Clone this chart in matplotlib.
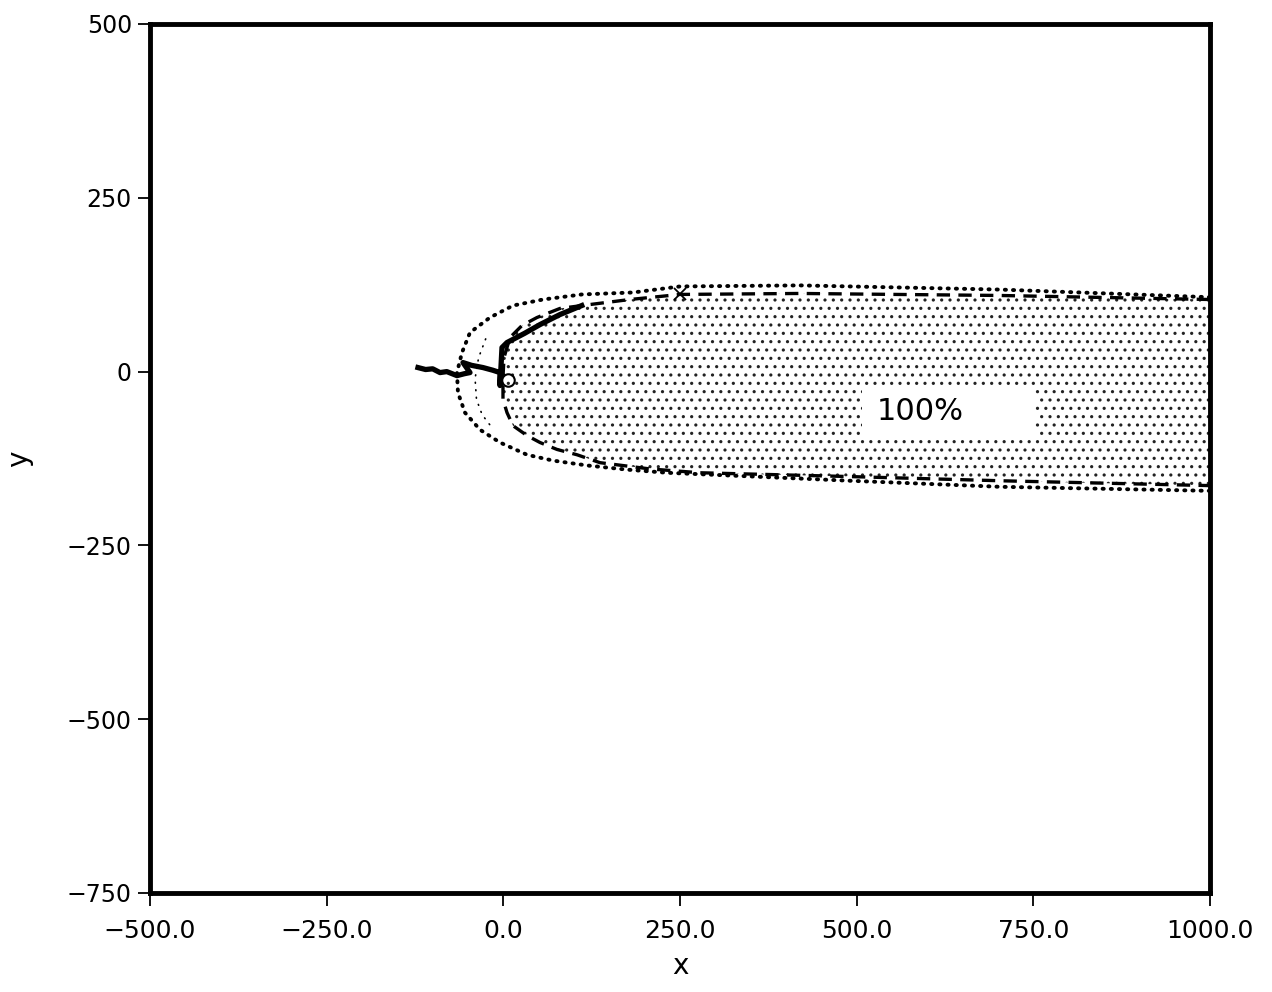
import matplotlib.pyplot as plt
from matplotlib.patches import Polygon, Rectangle

plt.rcParams['font.family'] = ['DejaVu Sans']
plt.rcParams['hatch.linewidth'] = 1.1

# outer dotted contour
outer_x = [1000, 702.8, 419.8, 250, 183.5, 111.3, 56.1, 13.7, -18.9, -47.2, -58.5, -65.6,
           -64.2, -54.3, -33, -4.7, 33.5, 70.3, 118.4, 175, 231.6, 490.5, 702.8, 1000]
outer_y = [107, 118, 124, 122.5, 113.8, 111, 103.7, 95, 77.8, 56.2, 27.4, -1.4,
           -30.3, -59, -83.6, -102, -119.6, -128, -135, -141, -145.5, -157, -165.7, -171.5]

# dashed contour (edge of the 100% region)
dash_x = [1000, 702.8, 419.8, 250, 179, 111, 80, 47.6, 26.4, 9.4, 0.9, -0.5, -0.5, 5.2,
          13.7, 33.5, 51.9, 76, 104.2, 136.8, 207.5, 278, 490.5, 702.8, 1000]
dash_y = [103.7, 109.5, 112.4, 111, 103.7, 95, 90.8, 77.8, 66.3, 49, 20, -8.6, -40, -59,
          -77.8, -92, -102, -112, -119.6, -131, -140, -145.5, -151, -157, -164]

# faint inner dotted arc
faint_x = [-25, -35, -40, -38, -30, -18]
faint_y = [47, 20, -10, -40, -62, -78]

# measured track
track_x = [-120.8, -110, -100, -89.6, -80, -65.6, -55, -47.2, -57.1, -45, -28.8, -15, -4.7,
           -4.7, -1.9, 5.2, 30, 52, 80, 111]
track_y = [5.8, 3, 4, -1.4, 0, -5.8, -3, -1.4, 13, 9, 5.8, 2, -1.4,
           -20, 34.6, 41.8, 55, 67.7, 82, 95]

start_x, start_y = 6.6, -11.5
cross_x, cross_y = 250, 111

label_text = '100%'
label_box = (507, -92, 245, 69)

xticks = [-500, -250, 0, 250, 500, 750, 1000]
yticks = [500, 250, 0, -250, -500, -750]

fig = plt.figure(figsize=(12.72, 9.92), dpi=100)
ax = fig.add_axes([150 / 1272, 1 - 893 / 992, 1060 / 1272, (893 - 24) / 992])

ax.add_patch(Polygon(list(zip(dash_x, dash_y)), closed=True, facecolor='white',
                     edgecolor='#222222', hatch='..', lw=0, zorder=1))
ax.add_patch(Rectangle(label_box[:2], label_box[2], label_box[3], facecolor='white',
                       edgecolor='none', zorder=2))
ax.text(528, -57, label_text, fontsize=22, va='center', ha='left', zorder=3)

ax.plot(outer_x, outer_y, color='black', lw=2.8, ls=(0, (0.3, 1.8)),
        dash_capstyle='round', zorder=4)
ax.plot(dash_x, dash_y, color='black', lw=2.4, ls=(0, (4, 2.5)), zorder=4)
ax.plot(faint_x, faint_y, color='black', lw=1.2, ls=(0, (0.5, 4)),
        dash_capstyle='round', zorder=4)
ax.plot(track_x, track_y, color='black', lw=3.8, solid_joinstyle='round', zorder=5)
ax.plot(start_x, start_y, marker='o', ms=9, mfc='none', mec='black', mew=1.5, zorder=6)
ax.plot(cross_x, cross_y, marker='x', ms=9, color='black', mew=1.3, zorder=6)

ax.set_xlim(-500, 1000)
ax.set_ylim(-750, 500)
ax.set_xticks(xticks)
ax.set_xticklabels([f'{v:.1f}'.replace('-', '\u2212') for v in xticks])
ax.set_yticks(yticks)
ax.set_yticklabels([str(v).replace('-', '\u2212') for v in yticks])
ax.tick_params(direction='out', length=9, width=1.3, labelsize=17, pad=4)
ax.tick_params(axis='x', labelsize=18, pad=10)
for s in ax.spines.values():
    s.set_linewidth(3.5)
ax.set_xlabel('x', fontsize=20, labelpad=6)
ax.set_ylabel('y', fontsize=20, labelpad=24)

fig.savefig('out.png', dpi=100)
